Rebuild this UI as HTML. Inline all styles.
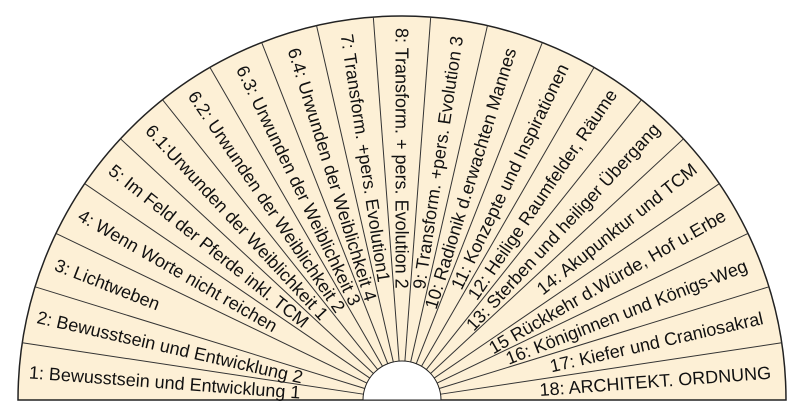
<!DOCTYPE html>
<html><head><meta charset="utf-8"><style>
html,body{margin:0;padding:0;background:#fff;width:803px;height:411px;overflow:hidden}
svg text{font-family:"Liberation Sans",sans-serif;font-size:18px;fill:#111}
</style></head><body>
<svg width="803" height="411" viewBox="0 0 803 411" xmlns="http://www.w3.org/2000/svg">
<path d="M18 400 A384 384 0 0 1 786 400 Z" fill="#fdf0d6" stroke="#222" stroke-width="1.5"/>
<g transform="translate(402,400)" stroke="#333" stroke-width="1">
<line x1="39" x2="384" transform="rotate(-8.571)"/>
<line x1="39" x2="384" transform="rotate(-17.143)"/>
<line x1="39" x2="384" transform="rotate(-25.714)"/>
<line x1="39" x2="384" transform="rotate(-34.286)"/>
<line x1="39" x2="384" transform="rotate(-42.857)"/>
<line x1="39" x2="384" transform="rotate(-51.429)"/>
<line x1="39" x2="384" transform="rotate(-60)"/>
<line x1="39" x2="384" transform="rotate(-68.571)"/>
<line x1="39" x2="384" transform="rotate(-77.143)"/>
<line x1="39" x2="384" transform="rotate(-85.714)"/>
<line x1="39" x2="384" transform="rotate(-94.286)"/>
<line x1="39" x2="384" transform="rotate(-102.857)"/>
<line x1="39" x2="384" transform="rotate(-111.429)"/>
<line x1="39" x2="384" transform="rotate(-120)"/>
<line x1="39" x2="384" transform="rotate(-128.571)"/>
<line x1="39" x2="384" transform="rotate(-137.143)"/>
<line x1="39" x2="384" transform="rotate(-145.714)"/>
<line x1="39" x2="384" transform="rotate(-154.286)"/>
<line x1="39" x2="384" transform="rotate(-162.857)"/>
<line x1="39" x2="384" transform="rotate(-171.429)"/>
</g>
<path d="M363 400 A39 39 0 0 1 441 400 Z" fill="#fff" stroke="#222" stroke-width="1"/>
<g transform="translate(402,400)">
<g text-anchor="start">
<text transform="rotate(-175.714) translate(374,0) rotate(180)" dy="0.35em">1: Bewusstsein und Entwicklung 1</text>
<text transform="rotate(-167.143) translate(374,0) rotate(180)" dy="0.35em">2: Bewusstsein und Entwicklung 2</text>
<text transform="rotate(-158.571) translate(372,0) rotate(180)" dy="0.35em">3: Lichtweben</text>
<text transform="rotate(-150) translate(372,0) rotate(180)" dy="0.35em">4: Wenn Worte nicht reichen</text>
<text transform="rotate(-141.429) translate(372,0) rotate(180)" dy="0.35em">5: Im Feld der Pferde inkl. TCM</text>
<text transform="rotate(-132.857) translate(372,0) rotate(180)" dy="0.35em">6.1:Urwunden der Weiblichkeit 1</text>
<text transform="rotate(-124.286) translate(372,0) rotate(180)" dy="0.35em">6.2: Urwunden der Weiblichkeit 2</text>
<text transform="rotate(-115.714) translate(370,0) rotate(180)" dy="0.35em">6.3: Urwunden der Weiblichkeit 3</text>
<text transform="rotate(-107.143) translate(368,0) rotate(180)" dy="0.35em">6.4: Urwunden der Weiblichkeit 4</text>
<text transform="rotate(-98.571) translate(370,0) rotate(180)" dy="0.35em">7: Transform. +pers. Evolution1</text>
<text transform="rotate(-90) translate(372,0) rotate(180)" dy="0.35em">8: Transform. + pers. Evolution 2</text>
</g>
<g text-anchor="end">
<text transform="rotate(-81.429)" x="368" dy="0.35em">9: Transform. +pers. Evolution 3</text>
<text transform="rotate(-72.857)" x="368" dy="0.35em">10: Radionik d.erwachten Mannes</text>
<text transform="rotate(-64.286)" x="372" dy="0.35em">11: Konzepte und Inspirationen</text>
<text transform="rotate(-55.714)" x="374" dy="0.35em">12: Heilige Raumfelder, Räume</text>
<text transform="rotate(-47.143)" x="374" dy="0.35em">13: Sterben und heiliger Übergang</text>
<text transform="rotate(-38.571)" x="374" dy="0.35em">14: Akupunktur und TCM</text>
<text transform="rotate(-30)" x="372" dy="0.35em">15 Rückkehr d.Würde, Hof u.Erbe</text>
<text transform="rotate(-21.429)" x="370" dy="0.35em">16: Königinnen und Königs-Weg</text>
<text transform="rotate(-12.857)" x="370" dy="0.35em">17: Kiefer und Craniosakral</text>
<text transform="rotate(-4.286)" x="370" dy="0.35em">18: ARCHITEKT. ORDNUNG</text>
</g>
</g>
</svg>
</body></html>
